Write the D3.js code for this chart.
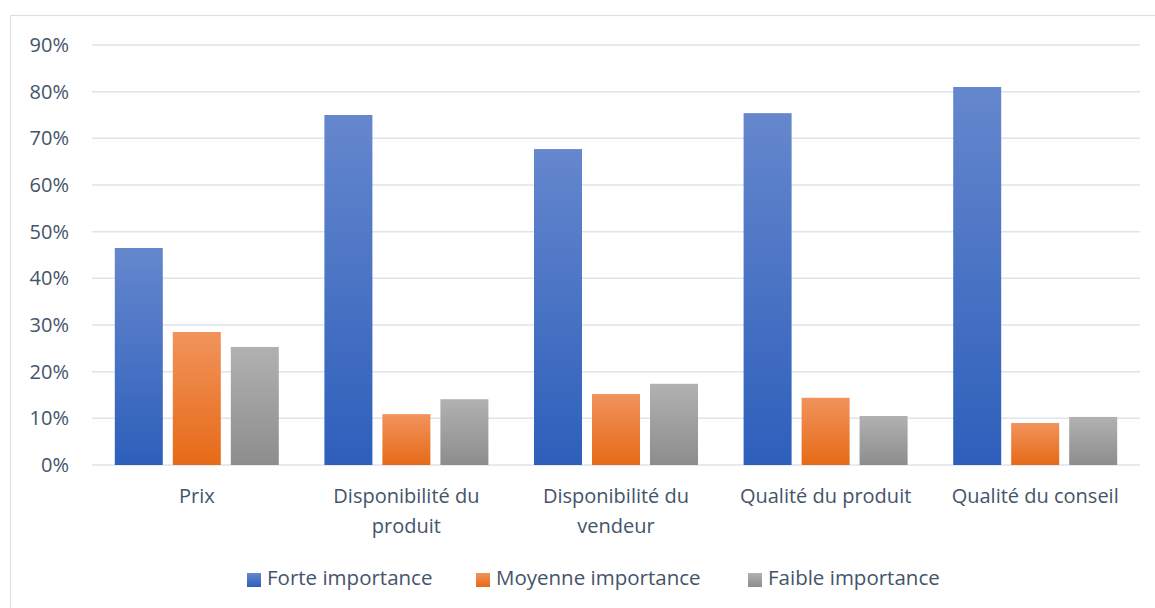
<!DOCTYPE html>
<html>
<head>
<meta charset="utf-8">
<script src="https://cdn.jsdelivr.net/npm/d3@7"></script>
<style>
  html, body { margin: 0; padding: 0; background: #fff; }
  svg { display: block; font-family: "Open Sans", sans-serif; }
  .axis text { fill: #44546a; font-size: 20px; font-family: "Open Sans", sans-serif; }
</style>
</head>
<body>
<svg id="chart" width="1155" height="608"></svg>
<script>
// categories and series (values in %)
const categories = ["Prix", "Disponibilité du produit", "Disponibilité du vendeur", "Qualité du produit", "Qualité du conseil"];
const seriesNames = ["Forte importance", "Moyenne importance", "Faible importance"];
const forte   = [46.5, 75.0, 67.7, 75.4, 81.0];
const moyenne = [28.5, 10.9, 15.2, 14.4, 9.0];
const faible  = [25.3, 14.1, 17.4, 10.5, 10.3];
const yTicks  = [0, 10, 20, 30, 40, 50, 60, 70, 80, 90];

const seriesValues = [forte, moyenne, faible];
const gradStops = [["#6587cd", "#2d5fbb"], ["#f1935c", "#e66a17"], ["#b1b1b1", "#8d8d8d"]];

const svg = d3.select("#chart");
const margins = { top: 45, right: 15, bottom: 143, left: 92 };
const W = 1155, H = 608;
const w = W - margins.left - margins.right;
const h = H - margins.top - margins.bottom;

// chart frame
svg.append("rect")
    .attr("x", 10.5).attr("y", 15.5)
    .attr("width", 1160).attr("height", 620)
    .attr("fill", "none").attr("stroke", "#d9dfe8").attr("stroke-width", 1.2);

const defs = svg.append("defs");
gradStops.forEach((s, i) => {
    const g = defs.append("linearGradient").attr("id", "grad" + i)
        .attr("x1", 0).attr("y1", 0).attr("x2", 0).attr("y2", 1);
    g.append("stop").attr("offset", "0%").attr("stop-color", s[0]);
    g.append("stop").attr("offset", "100%").attr("stop-color", s[1]);
});

const g = svg.append("g").attr("transform", `translate(${margins.left},${margins.top})`);

const y = d3.scaleLinear().domain([0, 90]).range([h, 0]);
const x0 = d3.scaleBand().domain(categories).range([0, w]).paddingInner(0).paddingOuter(0);
const groupW = 164;
const x1 = d3.scaleBand().domain(seriesNames).range([0, groupW]).paddingInner(10 / 58).paddingOuter(0);
const offset = (x0.bandwidth() - groupW) / 2;

// grid
g.append("g").selectAll("line")
    .data(yTicks)
    .join("line")
    .attr("x1", 0).attr("x2", w)
    .attr("y1", d => y(d)).attr("y2", d => y(d))
    .attr("stroke", "#dfe3ea").attr("stroke-width", 1.5);

// y axis
const yAxis = g.append("g").attr("class", "axis")
    .call(d3.axisLeft(y).tickValues(yTicks).tickFormat(d => d + "%").tickSize(0).tickPadding(23));
yAxis.select(".domain").remove();

// bars
const groups = g.append("g").selectAll("g")
    .data(categories)
    .join("g")
    .attr("transform", d => `translate(${x0(d) + offset},0)`);

groups.selectAll("rect")
    .data((d, ci) => seriesNames.map((s, si) => ({ s, si, v: seriesValues[si][ci] })))
    .join("rect")
    .attr("x", d => x1(d.s))
    .attr("width", x1.bandwidth())
    .attr("y", d => y(d.v))
    .attr("height", d => h - y(d.v))
    .attr("fill", d => `url(#grad${d.si})`);

// x axis labels (wrapped like the original)
const wrapLabel = {
    "Disponibilité du produit": ["Disponibilité du", "produit"],
    "Disponibilité du vendeur": ["Disponibilité du", "vendeur"]
};
const xAxis = g.append("g").attr("class", "axis")
    .attr("transform", `translate(0,${h})`)
    .call(d3.axisBottom(x0).tickSize(0).tickPadding(0));
xAxis.select(".domain").remove();
xAxis.selectAll(".tick text").each(function(d) {
    const t = d3.select(this).text(null).attr("y", 0).attr("dy", null);
    const lines = wrapLabel[d] || [d];
    lines.forEach((ln, i) => {
        t.append("tspan").attr("x", 0).attr("y", 38 + i * 30).text(ln);
    });
});

// legend
const legendX = [247, 476, 748];
const legend = svg.append("g").selectAll("g")
    .data(seriesNames)
    .join("g")
    .attr("transform", (d, i) => `translate(${legendX[i]},573)`);
legend.append("rect")
    .attr("width", 14).attr("height", 14)
    .attr("fill", (d, i) => `url(#grad${i})`);
legend.append("text")
    .attr("x", 20).attr("y", 5).attr("dy", "0.35em")
    .attr("fill", "#44546a").attr("font-size", 20.5)
    .text(d => d);
</script>
</body>
</html>
